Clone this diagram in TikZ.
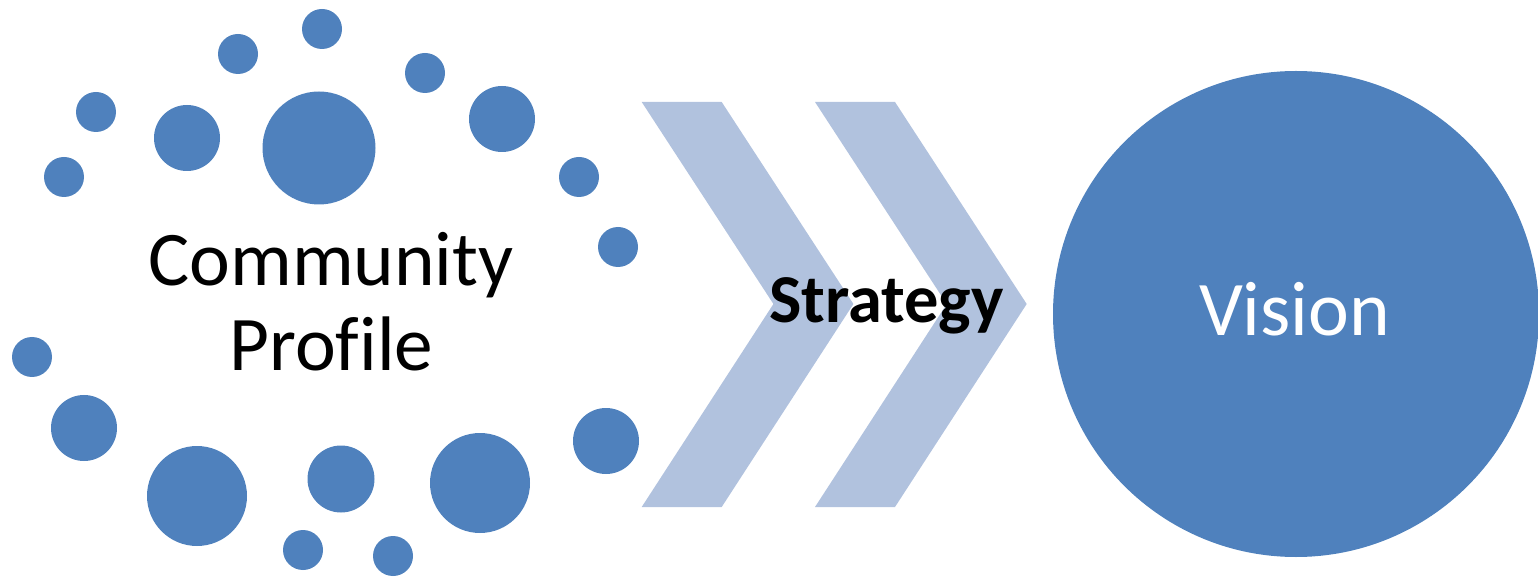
\documentclass[tikz,border=0pt]{standalone}
\usepackage{fontspec}
\setmainfont[Ligatures=NoCommon]{Carlito}

\definecolor{dotblue}{HTML}{4F81BD}
\definecolor{chevblue}{HTML}{B1C2DE}

\begin{document}
\begin{tikzpicture}[x=0.02cm, y=-0.02cm]
  % Page frame
  \useasboundingbox (0,0) rectangle (1538,577);

  \tikzset{
    dot/.style={fill=dotblue},
    chevron/.style={fill=chevblue},
    biglabel/.style={font=\fontsize{44}{48}\selectfont, anchor=base, inner sep=0pt}
  }

  % Small dots
  \fill[dot] (322,29) circle (20);
  \fill[dot] (238,54) circle (20);
  \fill[dot] (425,73) circle (20);
  \fill[dot] (96,112) circle (20);
  \fill[dot] (64,177) circle (20);
  \fill[dot] (579,177) circle (20);
  \fill[dot] (618,247) circle (20);
  \fill[dot] (32,357) circle (20);
  \fill[dot] (303,550) circle (20);
  \fill[dot] (393,556) circle (20);

  % Medium dots
  \fill[dot] (187,138) circle (33);
  \fill[dot] (502,119) circle (33);
  \fill[dot] (84,428) circle (33);
  \fill[dot] (341,479) circle (33.5);
  \fill[dot] (606,441) circle (33);

  % Large dots
  \fill[dot] (319,148) circle (56.5);
  \fill[dot] (197,496) circle (50);
  \fill[dot] (480,483) circle (50);

  % Chevrons
  \fill[chevron] (641.7,102) -- (721.7,102) -- (853.4,304) -- (721.7,507)
    -- (641.7,507) -- (773.4,304) -- cycle;
  \fill[chevron] (815,102) -- (895,102) -- (1026.7,304) -- (895,507)
    -- (815,507) -- (946.7,304) -- cycle;

  % Vision disc
  \fill[dot] (1296,314) circle (243);

  % Labels
  \node[biglabel] (community) at (331,286) {Community};
  \node[biglabel] (profile) at (331.5,371) {Profile};
  \node[biglabel, font=\fontsize{39}{44}\selectfont\bfseries] (strategy) at (886.5,323) {Strategy};
  \node[biglabel, text=white] (vision) at (1294.5,336) {Vision};
\end{tikzpicture}
\end{document}
